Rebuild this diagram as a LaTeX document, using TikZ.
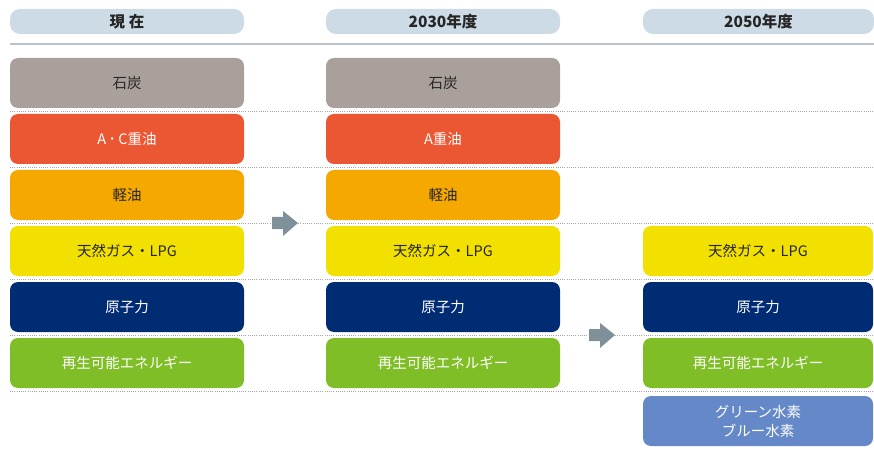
\documentclass[tikz,border=0pt]{standalone}
\usepackage{fontspec}
\setmainfont{Noto Sans CJK JP}
\begin{document}
\begin{tikzpicture}[x=1pt,y=-1pt,
  pill/.style={fill=hdr,rounded corners=10pt,minimum height=25pt,inner sep=0pt,font=\fontsize{15.5}{17}\selectfont\bfseries,text=black!85},
  ebox/.style={rounded corners=8pt,minimum height=50pt,inner sep=0pt,font=\fontsize{14.5}{18}\selectfont,align=center},
  sep/.style={draw=black!35,line width=0.9pt,dash pattern=on 1pt off 1.2pt},
  fatarrow/.style={fill=arr,draw=none}]
\definecolor{hdr}{HTML}{CCDBE5}
\definecolor{coal}{HTML}{A9A09C}
\definecolor{heavy}{HTML}{EC5733}
\definecolor{light}{HTML}{F5A800}
\definecolor{gas}{HTML}{F1E000}
\definecolor{nuc}{HTML}{002C74}
\definecolor{ren}{HTML}{7FBE26}
\definecolor{hyd}{HTML}{6588C8}
\definecolor{arr}{HTML}{80909A}
\definecolor{rule}{HTML}{B8C2C8}
\useasboundingbox (0,0) rectangle (874,454);
% dotted separators
\foreach \yy in {111,167,223,279,335,391}
  \draw[sep] (10,\yy) -- (874,\yy);
% header rule
\draw[draw=rule,line width=1.5pt] (10,44) -- (874,44);
% headers
\node[pill,minimum width=234pt] (h1) at (127,21.5) {現 在};
\node[pill,minimum width=234pt] (h2) at (443,21.5) {2030年度};
\node[pill,minimum width=231pt] (h3) at (758.5,21.5) {2050年度};
% column 1
\begin{scope}[ebox/.append style={minimum width=234pt}]
\node[ebox,fill=coal,text=black!85] (a1) at (127,83) {石炭};
\node[ebox,fill=heavy,text=white] (a2) at (127,139) {A\,･\,C重油};
\node[ebox,fill=light,text=black!85] (a3) at (127,195) {軽油};
\node[ebox,fill=gas,text=black!85] (a4) at (127,251) {天然ガス・LPG};
\node[ebox,fill=nuc,text=white] (a5) at (127,307) {原子力};
\node[ebox,fill=ren,text=white] (a6) at (127,363) {再生可能エネルギー};
% column 2
\node[ebox,fill=coal,text=black!85] (b1) at (443,83) {石炭};
\node[ebox,fill=heavy,text=white] (b2) at (443,139) {A重油};
\node[ebox,fill=light,text=black!85] (b3) at (443,195) {軽油};
\node[ebox,fill=gas,text=black!85] (b4) at (443,251) {天然ガス・LPG};
\node[ebox,fill=nuc,text=white] (b5) at (443,307) {原子力};
\node[ebox,fill=ren,text=white] (b6) at (443,363) {再生可能エネルギー};
\end{scope}
% column 3
\begin{scope}[ebox/.append style={minimum width=230pt}]
\node[ebox,fill=gas,text=black!85] (c4) at (758,251) {天然ガス・LPG};
\node[ebox,fill=nuc,text=white] (c5) at (758,307) {原子力};
\node[ebox,fill=ren,text=white] (c6) at (758,363) {再生可能エネルギー};
\node[ebox,fill=hyd,text=white,font=\fontsize{14.5}{19}\selectfont] (c7) at (758,421) {グリーン水素\\ブルー水素};
\end{scope}
% arrows
\coordinate (p1) at (272,223);
\fill[fatarrow] (p1) ++(0,-6) -- ++(11,0) -- ++(0,-6) -- ++(15,12) -- ++(-15,13) -- ++(0,-7) -- ++(-11,0) -- cycle;
\coordinate (p2) at (589,335);
\fill[fatarrow] (p2) ++(0,-6) -- ++(11,0) -- ++(0,-6) -- ++(15,12) -- ++(-15,13) -- ++(0,-7) -- ++(-11,0) -- cycle;
\end{tikzpicture}
\end{document}
